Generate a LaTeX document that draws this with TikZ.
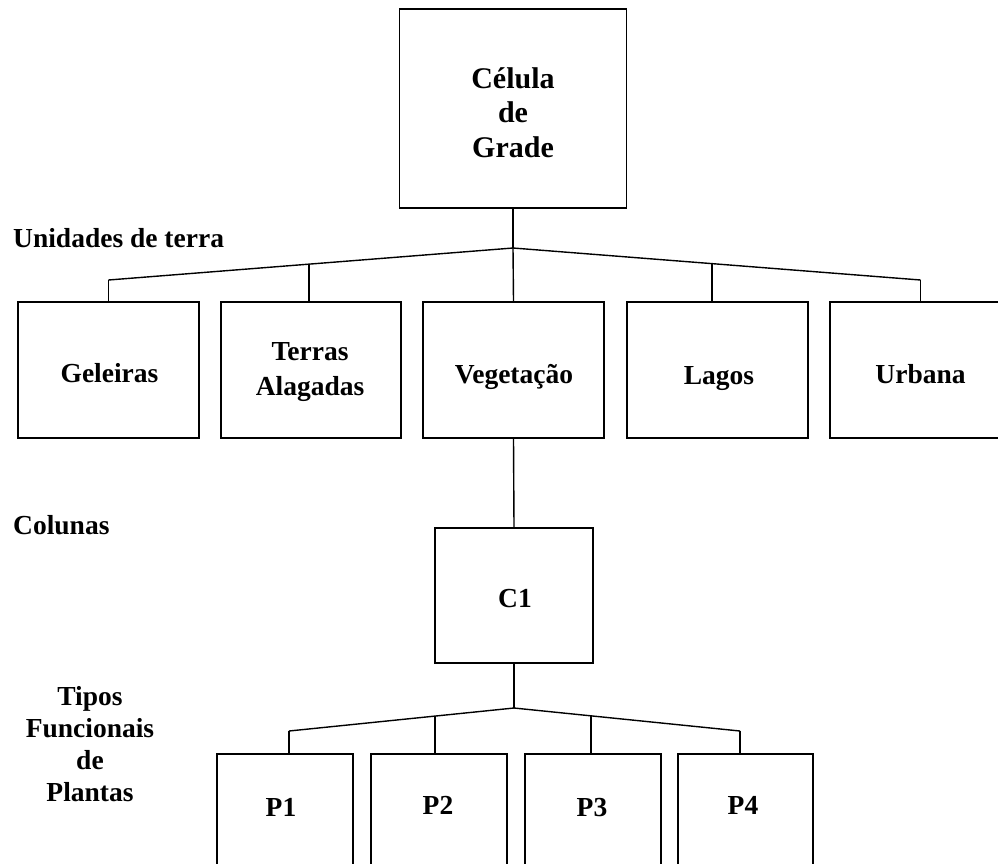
\documentclass[tikz,border=0pt]{standalone}
\usepackage{fontspec}
\setmainfont{Liberation Serif}
\begin{document}
\begin{tikzpicture}[x=1pt,y=-1pt,
  box/.style={draw, line width=1.4pt, inner sep=0pt, minimum height=136pt},
  conn/.style={line width=1.4pt},
  lbl/.style={font=\fontsize{27.5}{33}\selectfont\bfseries, inner sep=0pt, align=center, anchor=base},
  side/.style={lbl, anchor=base west}]
\useasboundingbox (0,0) rectangle (998,863);
\clip (0,0) rectangle (998,863);
% boxes
\node[box, minimum width=227pt, minimum height=199pt] (top) at (513,108.5) {};
\node[box, minimum width=181pt] (gel) at (108.5,370) {};
\node[box, minimum width=180pt] (ter) at (311,370) {};
\node[box, minimum width=181pt] (veg) at (513.5,370) {};
\node[box, minimum width=181pt] (lag) at (717.5,370) {};
\node[box, minimum width=181pt] (urb) at (920.5,370) {};
\node[box, minimum width=158pt, minimum height=135pt] (c1) at (514,595.5) {};
\node[box, minimum width=136pt, minimum height=160pt] (p1) at (285,834) {};
\node[box, minimum width=136pt, minimum height=160pt] (p2) at (439,834) {};
\node[box, minimum width=136pt, minimum height=160pt] (p3) at (593,834) {};
\node[box, minimum width=135pt, minimum height=160pt] (p4) at (745.5,834) {};
% texts (base anchor = baseline of the last line)
\node[lbl, font=\fontsize{30}{34.5}\selectfont\bfseries] (ttop) at (513,157) {Célula\\de\\Grade};
\node[lbl] (tgel) at (109.5,382) {Geleiras};
\node[lbl, font=\fontsize{27.5}{35}\selectfont\bfseries] (tter) at (310,395) {Terras\\Alagadas};
\node[lbl] (tveg) at (514,383) {Vegetação};
\node[lbl] (tlag) at (719,384) {Lagos};
\node[lbl] (turb) at (920.5,383) {Urbana};
\node[lbl] (tc1) at (515,607) {C1};
\node[lbl] (tp1) at (281,816) {P1};
\node[lbl] (tp2) at (438,814) {P2};
\node[lbl] (tp3) at (592,816) {P3};
\node[lbl] (tp4) at (743,814) {P4};
\node[side] (lunid) at (13,247) {Unidades de terra};
\node[side] (lcol) at (13,534) {Colunas};
\node[lbl, font=\fontsize{27.5}{31.7}\selectfont\bfseries] (ltipos) at (90,801) {Tipos\\Funcionais\\de\\Plantas};
% connectors level 1
\coordinate (j1) at (513,248);
\coordinate (g1) at (108.5,280);
\coordinate (t1) at (309,264.1);
\coordinate (l1) at (712,263.6);
\coordinate (u1) at (920.5,280);
\draw[conn] (top.south) -- (j1);
\draw[conn] (g1) -- (j1) -- (u1);
\draw[conn] (j1) -- (veg.north);
\draw[conn] (g1) -- (gel.north);
\draw[conn] (t1) -- (t1 |- ter.north);
\draw[conn] (l1) -- (l1 |- lag.north);
\draw[conn] (u1) -- (urb.north);
% vegetation to column
\draw[conn] (veg.south) -- (c1.north);
% connectors level 2
\coordinate (j2) at (514,708);
\coordinate (q1) at (289,731);
\coordinate (q2) at (435,716.1);
\coordinate (q3) at (591,715.8);
\coordinate (q4) at (740,731);
\draw[conn] (c1.south) -- (j2);
\draw[conn] (q1) -- (j2) -- (q4);
\draw[conn] (q1) -- (q1 |- p1.north);
\draw[conn] (q2) -- (q2 |- p2.north);
\draw[conn] (q3) -- (q3 |- p3.north);
\draw[conn] (q4) -- (q4 |- p4.north);
\end{tikzpicture}
\end{document}
